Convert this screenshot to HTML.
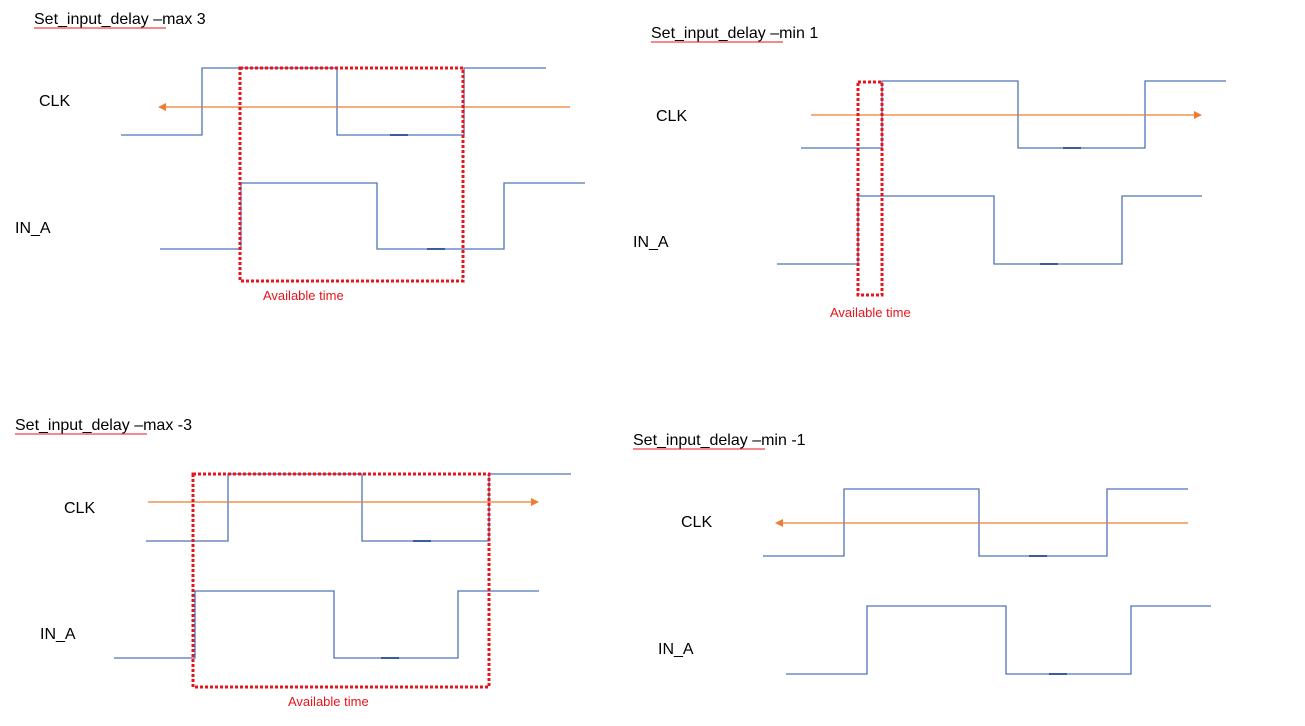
<!DOCTYPE html>
<html><head><meta charset="utf-8"><style>
html,body{margin:0;padding:0;background:#fff;}
svg{display:block;}
text{font-family:"Liberation Sans",sans-serif;}
</style></head><body>
<svg width="1305" height="726" viewBox="0 0 1305 726" xmlns="http://www.w3.org/2000/svg">
<defs>
<marker id="ar" markerWidth="8" markerHeight="8" refX="6" refY="4" orient="auto" markerUnits="userSpaceOnUse">
<path d="M0,0 L8,4 L0,8 z" fill="#ed7d31"/></marker>
</defs>
<g fill="none" stroke="#4f73b8" stroke-width="1.3">
<polyline points="121,135 202,135 202,68 337,68 337,135 464,135 464,68 546,68"/>
<polyline points="160,249 241,249 241,183 377,183 377,249 504,249 504,183 585,183"/>
<polyline points="801,148 882,148 882,81 1018,81 1018,148 1145,148 1145,81 1226,81"/>
<polyline points="777,264 858,264 858,196 994,196 994,264 1122,264 1122,196 1202,196"/>
<polyline points="146,541 228,541 228,474 362,474 362,541 489,541 489,474 571,474"/>
<polyline points="114,658 195,658 195,591 334,591 334,658 458,658 458,591 539,591"/>
<polyline points="763,556 844,556 844,489 979,489 979,556 1107,556 1107,489 1188,489"/>
<polyline points="786,674 867,674 867,606 1006,606 1006,674 1131,674 1131,606 1211,606"/>
</g>
<g stroke="#3b5d9c" stroke-width="2">
<line x1="390" y1="135" x2="408" y2="135"/><line x1="427" y1="249" x2="445" y2="249"/>
<line x1="1063" y1="148" x2="1081" y2="148"/><line x1="1040" y1="264" x2="1058" y2="264"/>
<line x1="413" y1="541" x2="431" y2="541"/><line x1="381" y1="658" x2="399" y2="658"/>
<line x1="1029" y1="556" x2="1047" y2="556"/><line x1="1049" y1="674" x2="1067" y2="674"/>
</g>
<g stroke="#ed7d31" stroke-width="1.3" fill="none">
<line x1="570" y1="107" x2="160" y2="107" marker-end="url(#ar)"/>
<line x1="811" y1="115" x2="1200" y2="115" marker-end="url(#ar)"/>
<line x1="148" y1="502" x2="537" y2="502" marker-end="url(#ar)"/>
<line x1="1188" y1="523" x2="777" y2="523" marker-end="url(#ar)"/>
</g>
<g fill="none" stroke="#e8141c" stroke-width="3" stroke-dasharray="3 2">
<rect x="240" y="68" width="223" height="213"/>
<rect x="858" y="82" width="24" height="213"/>
<rect x="193" y="474" width="296" height="213"/>
</g>
<g fill="#e8141c" font-size="13">
<text x="263" y="300">Available time</text>
<text x="830" y="317">Available time</text>
<text x="288" y="706">Available time</text>
</g>
<g fill="#000" font-size="16">
<text x="34" y="24">Set_input_delay –max 3</text>
<text x="651" y="38">Set_input_delay –min 1</text>
<text x="15" y="430">Set_input_delay –max -3</text>
<text x="633" y="445">Set_input_delay –min -1</text>
<text x="39" y="106">CLK</text>
<text x="15" y="233">IN_A</text>
<text x="656" y="121">CLK</text>
<text x="633" y="247">IN_A</text>
<text x="64" y="513">CLK</text>
<text x="40" y="639">IN_A</text>
<text x="681" y="527">CLK</text>
<text x="658" y="654">IN_A</text>
</g>
<g stroke="#e8141c" stroke-width="1">
<line x1="34" y1="28" x2="166" y2="28"/>
<line x1="651" y1="42" x2="783" y2="42"/>
<line x1="15" y1="434" x2="147" y2="434"/>
<line x1="633" y1="449" x2="765" y2="449"/>
</g>
</svg>
</body></html>
